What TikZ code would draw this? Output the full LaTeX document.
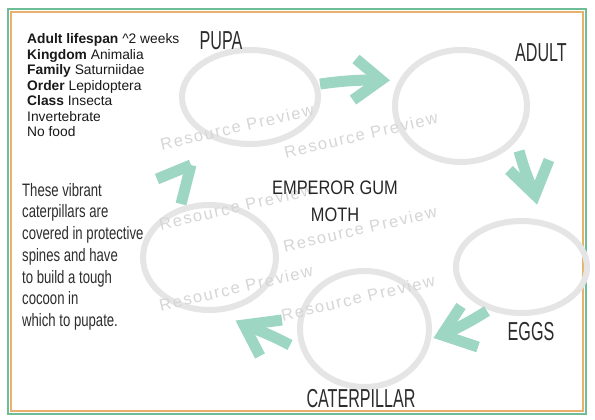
\documentclass[tikz,border=0pt]{standalone}
\usepackage{fontspec}
\setmainfont{Liberation Sans}
\newfontfamily\handfont[FakeStretch=0.62]{Liberation Sans}
\newfontfamily\parafont[FakeStretch=0.73]{Liberation Sans}
\newfontfamily\titlefont[FakeStretch=0.84]{Liberation Sans}
\newfontfamily\wmfont[LetterSpace=10]{Liberation Sans}
\usetikzlibrary{shapes.geometric}
\definecolor{bordergreen}{RGB}{109,190,150}
\definecolor{borderorange}{RGB}{232,178,110}
\definecolor{ringgray}{RGB}{229,229,229}
\definecolor{arrowteal}{RGB}{158,214,196}
\definecolor{handgray}{RGB}{45,45,45}
\definecolor{wmgray}{RGB}{214,214,214}
\begin{document}
\begin{tikzpicture}[x=1pt,y=-1pt,
  ring/.style={ellipse, draw=ringgray, line width=6pt, inner sep=0pt},
  arrowline/.style={draw=arrowteal, line width=11pt, line cap=butt, line join=miter},
  stagelabel/.style={inner sep=0pt, text=handgray, font=\handfont\fontsize{26}{26}\selectfont},
  wm/.style={inner sep=0pt, text=wmgray, rotate=13, font=\wmfont\fontsize{16.5}{16.5}\selectfont}]
\useasboundingbox (0,0) rectangle (595,420);
\fill[white] (0,0) rectangle (595,420);
% border
\draw[bordergreen, line width=2pt] (8,9) rectangle (586,414);
\draw[borderorange, line width=1.5pt] (11,12) rectangle (583,411);
% rings
\node[ring, minimum width=136pt, minimum height=94pt] (pupa) at (250,97) {};
\node[ring, minimum width=132pt, minimum height=112pt] (adult) at (461,106) {};
\node[ring, minimum width=131pt, minimum height=92pt] (eggs) at (521.5,267) {};
\node[ring, minimum width=129pt, minimum height=116pt] (cater) at (364.5,329) {};
\node[ring, minimum width=133pt, minimum height=105pt] (leftring) at (209.5,257.5) {};
% watermarks
\node[wm] (w1) at (237,127) {Resource Preview};
\node[wm] (w2) at (361,135) {Resource Preview};
\node[wm] (w3) at (236,207) {Resource Preview};
\node[wm] (w4) at (360,229) {Resource Preview};
\node[wm] (w5) at (236,288) {Resource Preview};
\node[wm] (w6) at (358,298) {Resource Preview};
% arrow coordinates
\coordinate (a1s) at (320,84); \coordinate (a1v) at (381,80);
\coordinate (a1u) at (356,59); \coordinate (a1l) at (353,100);
\coordinate (a2s) at (519,151); \coordinate (a2v) at (535,195);
\coordinate (a2u) at (509,170); \coordinate (a2l) at (549,160);
\coordinate (a3s) at (487,311); \coordinate (a3v) at (442,335);
\coordinate (a3u) at (461,306); \coordinate (a3l) at (478,347);
\coordinate (a4s) at (290,345); \coordinate (a4v) at (244,325);
\coordinate (a4u) at (282,320); \coordinate (a4l) at (260,356);
\coordinate (a5s) at (181,204); \coordinate (a5v) at (191,165);
\coordinate (a5u) at (157,179);
% arrows
\draw[arrowline] (a1s) to[bend left=4] (a1v);
\draw[arrowline] (a1u) -- (a1v) -- (a1l);
\draw[arrowline] (a2s) to[bend right=4] (a2v);
\draw[arrowline] (a2u) -- (a2v) -- (a2l);
\draw[arrowline] (a3s) to[bend left=4] (a3v);
\draw[arrowline] (a3u) -- (a3v) -- (a3l);
\draw[arrowline] (a4s) to[bend right=4] (a4v);
\draw[arrowline] (a4u) -- (a4v) -- (a4l);
\draw[arrowline] (a5s) -- (a5v);
\draw[arrowline] (a5u) -- (a5v);
% labels
\node[stagelabel] (lpupa) at (221,41) {PUPA};
\node[stagelabel] (ladult) at (541,53) {ADULT};
\node[stagelabel] (leggs) at (531,332) {EGGS};
\node[stagelabel] (lcater) at (361,399) {CATERPILLAR};
\node[anchor=north, inner sep=0pt, align=center, text=black!85, font=\titlefont\fontsize{19.5}{27}\selectfont] (title) at (335,181) {EMPEROR GUM\\MOTH};
\node[anchor=north west, inner sep=0pt, align=left, text=black!90, font=\fontsize{13.8}{15.5}\selectfont] (info) at (27,33.5)
 {\textbf{Adult lifespan} \textasciicircum2 weeks\\ \textbf{Kingdom} Animalia\\ \textbf{Family} Saturniidae\\ \textbf{Order} Lepidoptera\\ \textbf{Class} Insecta\\ Invertebrate\\ No food};
\node[anchor=north west, inner sep=0pt, align=left, text=handgray, font=\parafont\fontsize{18}{21.7}\selectfont] (para) at (22,183)
 {These vibrant\\caterpillars are\\covered in protective\\spines and have\\to build a tough\\cocoon in\\which to pupate.};
\end{tikzpicture}
\end{document}
